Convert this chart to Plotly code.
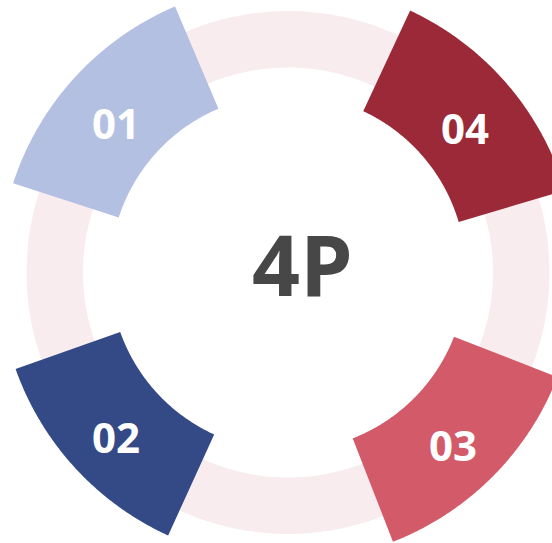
import numpy as np
import plotly.graph_objects as go

# ---- data ----
labels = ["01", "02", "03", "04"]
start_deg = [113.0, 199.5, 291.3, 16.5]   # math angle (ccw from east)
end_deg = [162.0, 245.5, 338.8, 65.0]
colors = ["#B4C0E1", "#344A87", "#D35A68", "#9B2937"]
center_title = "4P"

ring_color = "#F8ECEF"
R_IN, R_OUT = 178, 289
RING_IN, RING_OUT = 205, 261.5
CX, CY = 288, 272.5
W, H = 552, 543

fig = go.Figure()

# background ring (seam hidden beneath segment 04)
t0 = np.radians(40)
t = np.linspace(t0, t0 + 2 * np.pi, 721)
rr = (RING_IN + RING_OUT) / 2
fig.add_trace(go.Scatter(x=rr * np.cos(t), y=rr * np.sin(t), mode="lines",
                         line=dict(color=ring_color, width=RING_OUT - RING_IN, simplify=False),
                         hoverinfo="skip", showlegend=False))

for lab, a0, a1, c in zip(labels, start_deg, end_deg, colors):
    th = np.radians(np.linspace(a0, a1, 120))
    xs = np.concatenate([R_OUT * np.cos(th), R_IN * np.cos(th[::-1])])
    ys = np.concatenate([R_OUT * np.sin(th), R_IN * np.sin(th[::-1])])
    fig.add_trace(go.Scatter(x=xs, y=ys, fill="toself", fillcolor=c, mode="lines",
                             line=dict(width=0, color=c, simplify=False), hoverinfo="skip",
                             showlegend=False))
    mid = np.radians((a0 + a1) / 2)
    rm = 233
    fig.add_annotation(x=rm * np.cos(mid), y=rm * np.sin(mid), text=lab, showarrow=False,
                       yshift=-7,
                       font=dict(family="Open Sans", size=42, color="white", weight="bold"))

fig.add_annotation(x=302.5 - CX, y=CY - 267, text=center_title, showarrow=False, yshift=4,
                   font=dict(family="Open Sans", size=84, color="#474747", weight="bold"))

fig.update_layout(
    width=W, height=H, margin=dict(l=0, r=0, t=0, b=0),
    paper_bgcolor="white", plot_bgcolor="white",
    xaxis=dict(range=[-CX, W - CX], visible=False, fixedrange=True),
    yaxis=dict(range=[-(H - CY), CY], visible=False, fixedrange=True),
)

fig.write_html("out.html", config={"displayModeBar": False},
               post_script="document.body.style.margin='0';")
